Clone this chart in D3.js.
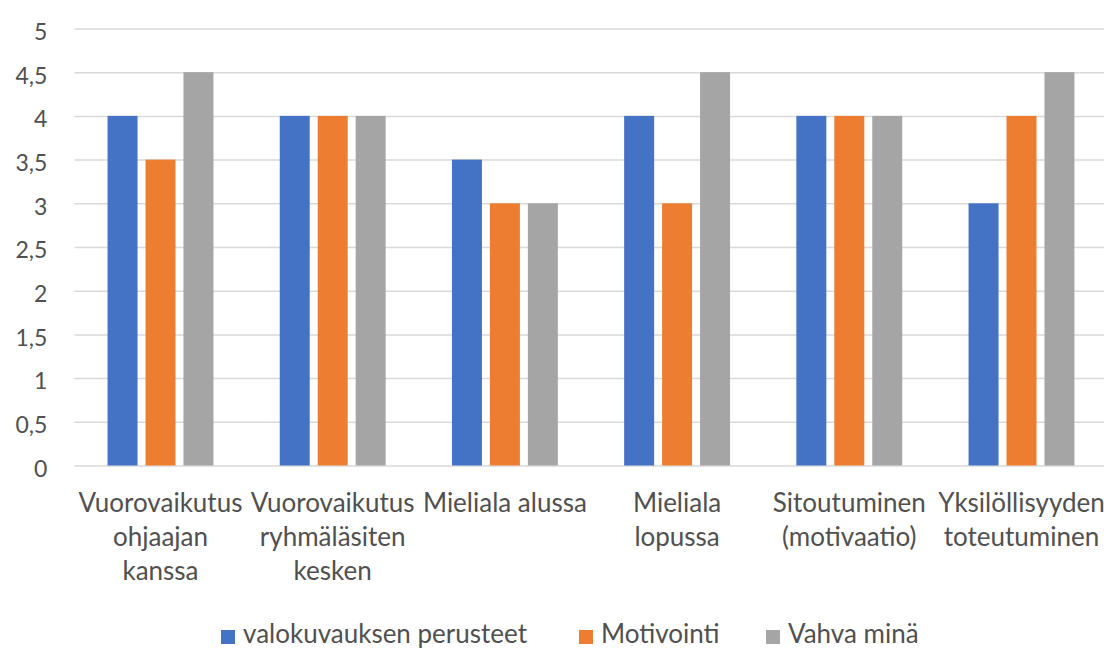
<!DOCTYPE html>
<html><head><meta charset="utf-8">
<script src="https://cdn.jsdelivr.net/npm/d3@7"></script>
<style>html,body{margin:0;padding:0;background:#fff;}svg{display:block;}</style>
</head><body>
<svg id="chart" width="1104" height="648"></svg>
<script>
const categories = [
  ["Vuorovaikutus", "ohjaajan", "kanssa"],
  ["Vuorovaikutus", "ryhmäläsiten", "kesken"],
  ["Mieliala alussa"],
  ["Mieliala", "lopussa"],
  ["Sitoutuminen", "(motivaatio)"],
  ["Yksilöllisyyden", "toteutuminen"]
];
const seriesNames = ["valokuvauksen perusteet", "Motivointi", "Vahva minä"];
const valokuvaus = [4, 4, 3.5, 4, 4, 3];
const motivointi = [3.5, 4, 3, 3, 4, 4];
const vahvaMina = [4.5, 4, 3, 4.5, 4, 4.5];
const yTicks = [0, 0.5, 1, 1.5, 2, 2.5, 3, 3.5, 4, 4.5, 5];
const colors = ["#4472C4", "#ED7D31", "#A5A5A5"];

const seriesValues = [valokuvaus, motivointi, vahvaMina];
const catKeys = categories.map(c => c.join(" "));
const svg = d3.select("#chart");
const font = "Lato, 'Open Sans', sans-serif";
const textColor = "#505050";

const mLeft = 74.4, mRight = 1107.6, mTop = 28.5, mBottom = 465.5;
const y = d3.scaleLinear().domain([0, 5]).range([mBottom, mTop]);
const x0 = d3.scaleBand().domain(catKeys).range([mLeft, mRight]).paddingInner(0.385).paddingOuter(0.1925);
const x1 = d3.scaleBand().domain(seriesNames).range([0, x0.bandwidth()]).paddingInner(0.21).paddingOuter(0);

// gridlines
const yAxis = d3.axisLeft(y).tickValues(yTicks).tickSize(-(mRight - mLeft)).tickPadding(27)
  .tickFormat(d => String(d).replace(".", ","));
const gy = svg.append("g").attr("transform", `translate(${mLeft},0)`).call(yAxis);
gy.select(".domain").remove();
gy.selectAll(".tick line").attr("stroke", "#D9D9D9").attr("stroke-width", 1.5);
gy.selectAll(".tick text").attr("fill", textColor).attr("dy", "0.47em")
  .style("font-family", font).style("font-size", "23px");

// bars
const groups = svg.append("g").selectAll("g").data(catKeys).join("g")
  .attr("transform", d => `translate(${x0(d)},0)`);
groups.selectAll("rect").data((d, i) => seriesNames.map((s, j) => ({s, v: seriesValues[j][i], j})))
  .join("rect")
  .attr("x", d => x1(d.s)).attr("width", x1.bandwidth())
  .attr("y", d => y(d.v)).attr("height", d => y(0) - y(d.v))
  .attr("fill", d => colors[d.j]);

// category labels
const lab = svg.append("g");
categories.forEach((lines, i) => {
  const cx = x0(catKeys[i]) + x0.bandwidth() / 2;
  const t = lab.append("text").attr("text-anchor", "middle").attr("fill", textColor)
    .style("font-family", font).style("font-size", "26px");
  lines.forEach((ln, k) => {
    t.append("tspan").attr("x", cx).attr("y", 512 + k * 34).text(ln);
  });
});

// legend
const legendX = [221, 579, 766];
const lg = svg.append("g");
seriesNames.forEach((s, i) => {
  lg.append("rect").attr("x", legendX[i]).attr("y", 630).attr("width", 14).attr("height", 14).attr("fill", colors[i]);
  lg.append("text").attr("x", legendX[i] + 22).attr("y", 643).attr("fill", textColor)
    .style("font-family", font).style("font-size", "26px").text(s);
});
</script>
</body></html>
